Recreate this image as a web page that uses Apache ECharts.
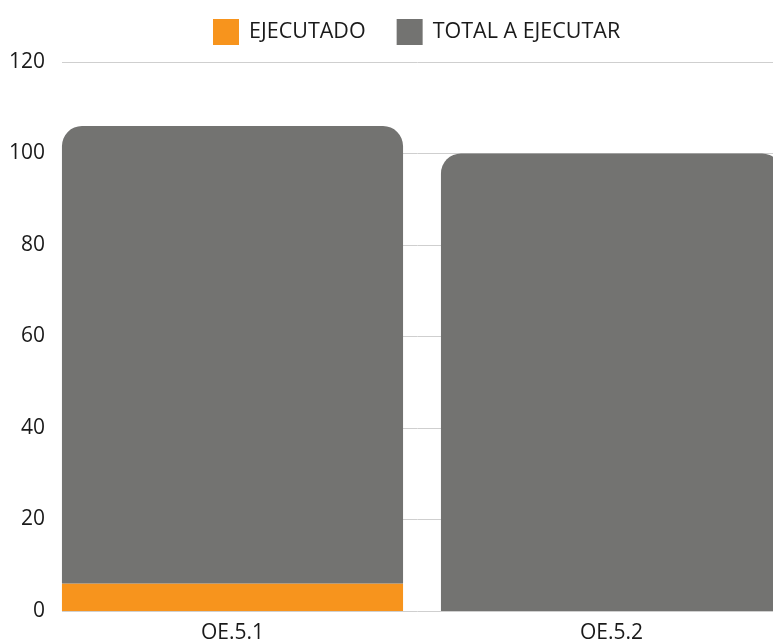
<!DOCTYPE html>
<html><head><meta charset="utf-8">
<script src="https://cdn.jsdelivr.net/npm/echarts@6/dist/echarts.min.js"></script>
<style>html,body{margin:0;padding:0;background:#fff}#c{width:773px;height:644px}</style>
</head><body><div id="c"></div>
<script>
const categories = ['OE.5.1', 'OE.5.2'];
const ejecutado = [6, 0];
const totalAEjecutar = [100, 100];
const yTicks = [0, 20, 40, 60, 80, 100, 120];

const chart = echarts.init(document.getElementById('c'), null, {renderer: 'canvas'});
const font = '"Open Sans", "Noto Sans", sans-serif';
chart.setOption({
  animation: false,
  textStyle: {fontFamily: font},
  legend: {
    top: 14, left: 208,
    itemWidth: 26, itemHeight: 26, itemGap: 31,
    icon: 'rect',
    textStyle: {fontSize: 21.5, color: '#1a1a1a', fontFamily: font, padding: [0, 0, 0, 5]},
    data: ['EJECUTADO', 'TOTAL A EJECUTAR']
  },
  grid: [
    {left: 62, right: 0, top: 62, bottom: 33, outerBoundsMode: 'none', containLabel: false},
    {left: 43, width: 758, top: 62, bottom: 33, outerBoundsMode: 'none', containLabel: false}
  ],
  xAxis: [
    {gridIndex: 0, type: 'category', data: categories, show: false},
    {gridIndex: 1, type: 'category', data: categories,
     axisLine: {show: false}, axisTick: {show: false},
     axisLabel: {fontSize: 21, color: '#1a1a1a', margin: 12, fontFamily: font}}
  ],
  yAxis: [
    {gridIndex: 0, type: 'value', min: 0, max: 120, interval: 20,
     axisLine: {show: false}, axisTick: {show: false},
     axisLabel: {fontSize: 21, color: '#1a1a1a', margin: 17, fontFamily: font, padding: [3, 0, 0, 0]},
     splitLine: {lineStyle: {color: '#cfcfcf', width: 1}}},
    {gridIndex: 1, type: 'value', min: 0, max: 120, interval: 20, show: false, splitLine: {show: false}}
  ],
  series: [
    {name: 'EJECUTADO', type: 'bar', stack: 's', xAxisIndex: 1, yAxisIndex: 1,
     data: ejecutado, barCategoryGap: '10%', itemStyle: {color: '#F7941D'}},
    {name: 'TOTAL A EJECUTAR', type: 'bar', stack: 's', xAxisIndex: 1, yAxisIndex: 1,
     data: totalAEjecutar, barCategoryGap: '10%', itemStyle: {color: '#737371', borderRadius: [20, 20, 0, 0]}}
  ]
});
</script></body></html>
